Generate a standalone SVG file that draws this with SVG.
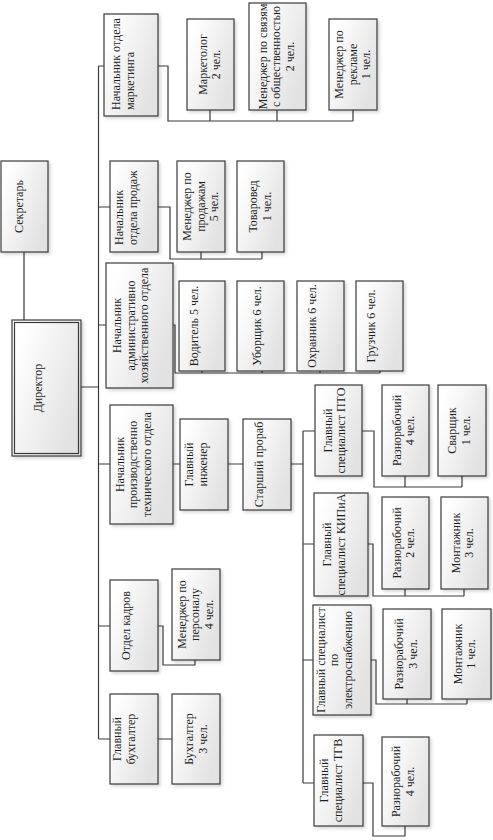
<svg xmlns="http://www.w3.org/2000/svg" width="493" height="840" viewBox="0 0 493 840">
<defs>
<linearGradient id="g" x1="0" y1="0" x2="1" y2="0.6">
<stop offset="0.15" stop-color="#ffffff"/>
<stop offset="1" stop-color="#e2e2e2"/>
</linearGradient>
<filter id="sh" x="-20%" y="-20%" width="140%" height="140%">
<feDropShadow dx="2" dy="2" stdDeviation="1.6" flood-color="#000" flood-opacity="0.16"/>
</filter>
<style>
.box{fill:url(#g);stroke:#3a3a3a;stroke-width:1.2;filter:url(#sh)}
.in{fill:none;stroke:#3a3a3a;stroke-width:1.2}
.t{font-family:"Liberation Serif","Times New Roman",serif;font-size:12px;fill:#1e1e1e;text-anchor:middle}
.s{text-anchor:start}
.c{fill:none;stroke:#3a3a3a;stroke-width:1.2}
</style>
</defs>
<rect width="493" height="840" fill="#ffffff"/>
<g id="connectors" class="c">
<path d="M98.5,66 V739 M98.5,66 H104 M98.5,207 H110 M98.5,325 H106 M98.5,464 H110 M98.5,626 H110 M98.5,739 H110"/>
<path d="M81,387 H98.5 M24,252 V320"/>
<path d="M158,66 H168 V121 H353 M210,110 V121 M277,110 V121 M353,110 V121"/>
<path d="M158,207 H170 V259 H262 M201,252 V259 M262,252 V259"/>
<path d="M173,325 H175 V373 H380 M202,371 V373 M262,371 V373 M320,371 V373 M380,371 V373"/>
<path d="M173,464 H180 M228,464 H243 M291,464 H303 M303,431 V783 M303,431 H315 M303,544 H314 M303,660 H313 M303,783 H314"/>
<path d="M362,431 H374 V487 H462 M405,476 V487 M462,476 V487"/>
<path d="M368,544 H373 V596 H464 M405,589 V596 M464,589 V596"/>
<path d="M371,660 H376 V704 H467 M407,699 V704 M467,699 V704"/>
<path d="M363,783 H373 V836 H405 V826"/>
<path d="M158,626 H163 V665 H195 V660 M158,739 H172"/>
</g>
<g id="secretary"><rect class="box" x="1" y="161" width="47" height="91"/>
<text class="t" transform="rotate(-90)"><tspan x="-206.5" y="23">Секретарь</tspan></text></g>
<g id="director"><rect class="box" x="12" y="320" width="69" height="136"/><rect class="in" x="14.5" y="322.5" width="64" height="131"/>
<text class="t" transform="rotate(-90)"><tspan x="-388" y="41.5">Директор</tspan></text></g>
<g id="mkt_head"><rect class="box" x="104" y="14" width="54" height="102"/>
<text class="t s" transform="rotate(-90)"><tspan x="-110" y="120.25">Начальник отдела</tspan><tspan x="-110" y="133.75">маркетинга</tspan></text></g>
<g id="sales_head"><rect class="box" x="110" y="161" width="48" height="91"/>
<text class="t s" transform="rotate(-90)"><tspan x="-245" y="123.25">Начальник</tspan><tspan x="-245" y="136.75">отдела продаж</tspan></text></g>
<g id="admin_head"><rect class="box" x="106" y="263" width="67" height="125"/>
<text class="t" transform="rotate(-90)"><tspan x="-325.5" y="121">Начальник</tspan><tspan x="-325.5" y="134.5">административно</tspan><tspan x="-325.5" y="148">хозяйственного отдела</tspan></text></g>
<g id="prod_head"><rect class="box" x="110" y="405" width="63" height="119"/>
<text class="t" transform="rotate(-90)"><tspan x="-464.5" y="123.5">Начальник</tspan><tspan x="-464.5" y="137">производственно</tspan><tspan x="-464.5" y="150.5">технического отдела</tspan></text></g>
<g id="hr_head"><rect class="box" x="110" y="580" width="48" height="91"/>
<text class="t" transform="rotate(-90)"><tspan x="-625.5" y="130">Отдел кадров</tspan></text></g>
<g id="chief_acc"><rect class="box" x="110" y="694" width="48" height="90"/>
<text class="t" transform="rotate(-90)"><tspan x="-739" y="121.25">Главный</tspan><tspan x="-739" y="134.75">бухгалтер</tspan></text></g>
<g id="marketolog"><rect class="box" x="187" y="19" width="47" height="91"/>
<text class="t" transform="rotate(-90)"><tspan x="-64.5" y="206.75">Маркетолог</tspan><tspan x="-64.5" y="220.25">2 чел.</tspan></text></g>
<g id="pr_mgr"><rect class="box" x="249" y="3" width="57" height="107"/>
<text class="t" transform="rotate(-90)"><tspan x="-56.5" y="266.5">Менеджер по связям</tspan><tspan x="-56.5" y="280">с общественностью</tspan><tspan x="-56.5" y="293.5">2 чел.</tspan></text></g>
<g id="ad_mgr"><rect class="box" x="329" y="19" width="48" height="91"/>
<text class="t" transform="rotate(-90)"><tspan x="-64.5" y="343">Менеджер по</tspan><tspan x="-64.5" y="356.5">рекламе</tspan><tspan x="-64.5" y="370">1 чел.</tspan></text></g>
<g id="sales_mgr"><rect class="box" x="177" y="161" width="48" height="91"/>
<text class="t" transform="rotate(-90)"><tspan x="-206.5" y="191">Менеджер по</tspan><tspan x="-206.5" y="204.5">продажам</tspan><tspan x="-206.5" y="218">5 чел.</tspan></text></g>
<g id="merch"><rect class="box" x="237" y="161" width="47" height="91"/>
<text class="t" transform="rotate(-90)"><tspan x="-206.5" y="257">Товаровед</tspan><tspan x="-206.5" y="270.5">1 чел.</tspan></text></g>
<g id="driver"><rect class="box" x="179" y="281" width="46" height="90"/>
<text class="t" transform="rotate(-90)"><tspan x="-326" y="198">Водитель 5 чел.</tspan></text></g>
<g id="cleaner"><rect class="box" x="237" y="281" width="47" height="90"/>
<text class="t" transform="rotate(-90)"><tspan x="-326" y="261">Уборщик 6 чел.</tspan></text></g>
<g id="guard"><rect class="box" x="297" y="281" width="47" height="90"/>
<text class="t" transform="rotate(-90)"><tspan x="-326" y="316">Охранник 6 чел.</tspan></text></g>
<g id="loader"><rect class="box" x="356" y="281" width="47" height="90"/>
<text class="t" transform="rotate(-90)"><tspan x="-326" y="375">Грузчик 6 чел.</tspan></text></g>
<g id="chief_eng"><rect class="box" x="180" y="419" width="48" height="91"/>
<text class="t" transform="rotate(-90)"><tspan x="-464.5" y="193.25">Главный</tspan><tspan x="-464.5" y="206.75">инженер</tspan></text></g>
<g id="foreman"><rect class="box" x="243" y="419" width="48" height="91"/>
<text class="t" transform="rotate(-90)"><tspan x="-464.5" y="263">Старший прораб</tspan></text></g>
<g id="hr_mgr"><rect class="box" x="172" y="569" width="48" height="91"/>
<text class="t" transform="rotate(-90)"><tspan x="-614.5" y="185.5">Менеджер по</tspan><tspan x="-614.5" y="199">персоналу</tspan><tspan x="-614.5" y="212.5">4 чел.</tspan></text></g>
<g id="accountant"><rect class="box" x="172" y="694" width="48" height="90"/>
<text class="t" transform="rotate(-90)"><tspan x="-739" y="193.25">Бухгалтер</tspan><tspan x="-739" y="206.75">3 чел.</tspan></text></g>
<g id="pto"><rect class="box" x="315" y="385" width="47" height="91"/>
<text class="t" transform="rotate(-90)"><tspan x="-430.5" y="331.75">Главный</tspan><tspan x="-430.5" y="345.25">специалист ПТО</tspan></text></g>
<g id="pto_w1"><rect class="box" x="382" y="385" width="47" height="91"/>
<text class="t" transform="rotate(-90)"><tspan x="-430.5" y="400.75">Разнорабочий</tspan><tspan x="-430.5" y="414.25">4 чел.</tspan></text></g>
<g id="pto_w2"><rect class="box" x="438" y="385" width="48" height="91"/>
<text class="t" transform="rotate(-90)"><tspan x="-430.5" y="456.25">Сварщик</tspan><tspan x="-430.5" y="469.75">1 чел.</tspan></text></g>
<g id="kip"><rect class="box" x="314" y="493" width="54" height="103"/>
<text class="t" transform="rotate(-90)"><tspan x="-544.5" y="331.25">Главный</tspan><tspan x="-544.5" y="344.75">специалист КИПиА</tspan></text></g>
<g id="kip_w1"><rect class="box" x="382" y="497" width="47" height="92"/>
<text class="t" transform="rotate(-90)"><tspan x="-543" y="400.75">Разнорабочий</tspan><tspan x="-543" y="414.25">2 чел.</tspan></text></g>
<g id="kip_w2"><rect class="box" x="441" y="497" width="47" height="92"/>
<text class="t" transform="rotate(-90)"><tspan x="-543" y="459.75">Монтажник</tspan><tspan x="-543" y="473.25">3 чел.</tspan></text></g>
<g id="el"><rect class="box" x="313" y="605" width="58" height="110"/>
<text class="t" transform="rotate(-90)"><tspan x="-660" y="324.5">Главный специалист</tspan><tspan x="-660" y="338">по</tspan><tspan x="-660" y="351.5">электроснабжению</tspan></text></g>
<g id="el_w1"><rect class="box" x="383" y="609" width="48" height="90"/>
<text class="t" transform="rotate(-90)"><tspan x="-654" y="403">Разнорабочий</tspan><tspan x="-654" y="416.5">3 чел.</tspan></text></g>
<g id="el_w2"><rect class="box" x="442" y="609" width="49" height="90"/>
<text class="t" transform="rotate(-90)"><tspan x="-654" y="461.75">Монтажник</tspan><tspan x="-654" y="475.25">1 чел.</tspan></text></g>
<g id="tgv"><rect class="box" x="314" y="735" width="49" height="91"/>
<text class="t" transform="rotate(-90)"><tspan x="-780.5" y="328">Главный</tspan><tspan x="-780.5" y="341.5">специалист ТГВ</tspan></text></g>
<g id="tgv_w1"><rect class="box" x="382" y="737" width="47" height="89"/>
<text class="t" transform="rotate(-90)"><tspan x="-781.5" y="400">Разнорабочий</tspan><tspan x="-781.5" y="413.5">4 чел.</tspan></text></g>
</svg>
